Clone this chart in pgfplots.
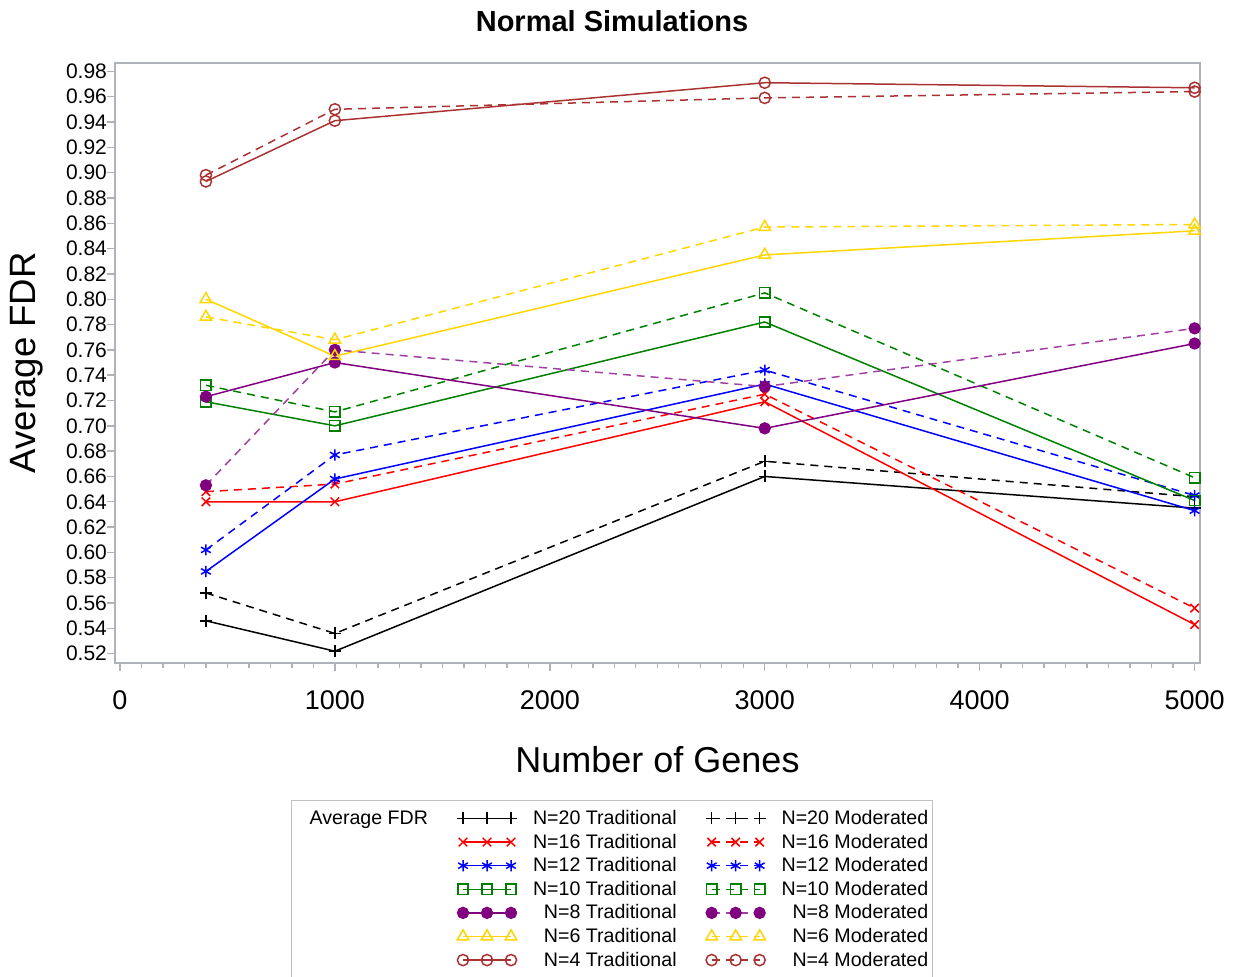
\documentclass[border=0pt]{standalone}
\usepackage{pgfplots}
\pgfplotsset{compat=1.18}
\usepackage{fontspec}
\setmainfont{Liberation Sans}
\definecolor{cGreen}{RGB}{0,128,0}
\definecolor{cPurple}{RGB}{128,0,128}
\definecolor{cGold}{RGB}{255,214,0}
\definecolor{cBrown}{RGB}{170,50,50}
\definecolor{cAxis}{RGB}{175,178,182}
\begin{document}
\begin{tikzpicture}
\useasboundingbox (-57.5pt,-157pt) rectangle (559pt,331.35pt);
\begin{axis}[
  scale only axis, width=542.5pt, height=300pt,
  xmin=-23, xmax=5025, ymin=0.5129, ymax=0.9868,
  xtick={0,1000,2000,3000,4000,5000}, minor x tick num=9,
  ytick={0.52,0.54,...,0.985},
  tick pos=left, tick align=outside,
  major tick length=4pt, minor tick length=2.5pt,
  axis line style={cAxis, line width=0.8pt},
  tick style={cAxis, line width=0.7pt},
  /pgf/number format/assume math mode=true,
  /pgf/number format/1000 sep={},
  yticklabel style={font=\fontsize{10.5}{12}\selectfont, xshift=3.5pt, /pgf/number format/.cd, fixed, fixed zerofill, precision=2},
  xticklabel style={font=\fontsize{13.5}{16}\selectfont, yshift=-6.5pt},
  title={Normal Simulations},
  title style={at={(axis description cs:0.5,1)}, anchor=center, yshift=15pt, xshift=-22.75pt, font=\bfseries\fontsize{14.5}{17}\selectfont},
  xlabel={Number of Genes},
  xlabel style={at={(axis description cs:0.5,-0.1617)}, anchor=center, font=\fontsize{18}{21}\selectfont},
  ylabel={Average FDR},
  ylabel style={at={(axis description cs:-0.081,0.5)}, anchor=center, font=\fontsize{18.3}{21}\selectfont},
  every axis plot/.append style={line width=0.75pt},
  legend image code/.code={\draw[#1] plot coordinates {(0pt,0pt) (12pt,0pt) (24pt,0pt)};},
  legend columns=3,
  legend cell align=right,
  legend style={at={(axis description cs:0.458,-0.2283)}, anchor=north,
    draw=cAxis!80, line width=0.6pt, inner xsep=1pt, inner ysep=3.5pt,
    font=\fontsize{9.8}{11}\selectfont,
    nodes={inner sep=1pt, text height=7.6pt, text depth=1.6pt},
    row sep=0.6pt,
    /tikz/every odd column/.append style={column sep=7pt},
    /tikz/every even column/.append style={column sep=13.5pt},
    /tikz/column 1/.append style={column sep=0pt},
    /tikz/column 2/.append style={column sep=15pt},
  },
  dsh/.style={dash pattern=on 4pt off 3pt},
]
% N=20
\addlegendimage{empty legend}\addlegendentry{Average FDR}
\addplot[black, mark=+, mark size=3pt, mark options={solid}] coordinates {(400,0.546)(1000,0.522)(3000,0.660)(5000,0.635)};
\addlegendentry{N=20 Traditional}
\addplot[black, dsh, mark=+, mark size=3pt, mark options={solid}] coordinates {(400,0.568)(1000,0.536)(3000,0.672)(5000,0.644)};
\addlegendentry{N=20 Moderated}
% N=16
\addlegendimage{empty legend}\addlegendentry{}
\addplot[red, mark=x, mark size=3pt, mark options={solid}] coordinates {(400,0.640)(1000,0.640)(3000,0.719)(5000,0.543)};
\addlegendentry{N=16 Traditional}
\addplot[red, dsh, mark=x, mark size=3pt, mark options={solid}] coordinates {(400,0.648)(1000,0.654)(3000,0.725)(5000,0.556)};
\addlegendentry{N=16 Moderated}
% N=12
\addlegendimage{empty legend}\addlegendentry{}
\addplot[blue, mark=asterisk, mark size=2.8pt, mark options={solid}] coordinates {(400,0.585)(1000,0.658)(3000,0.733)(5000,0.633)};
\addlegendentry{N=12 Traditional}
\addplot[blue, dsh, mark=asterisk, mark size=2.8pt, mark options={solid}] coordinates {(400,0.602)(1000,0.677)(3000,0.744)(5000,0.645)};
\addlegendentry{N=12 Moderated}
% N=10
\addlegendimage{empty legend}\addlegendentry{}
\addplot[cGreen, mark=square, mark size=2.6pt, mark options={solid}] coordinates {(400,0.719)(1000,0.700)(3000,0.782)(5000,0.641)};
\addlegendentry{N=10 Traditional}
\addplot[cGreen, dsh, mark=square, mark size=2.6pt, mark options={solid}] coordinates {(400,0.732)(1000,0.711)(3000,0.805)(5000,0.659)};
\addlegendentry{N=10 Moderated}
% N=8
\addlegendimage{empty legend}\addlegendentry{}
\addplot[cPurple, mark=*, mark size=2.7pt, mark options={solid}] coordinates {(400,0.723)(1000,0.750)(3000,0.698)(5000,0.765)};
\addlegendentry{N=8 Traditional}
\addplot[cPurple!75, dsh, mark=*, mark size=2.7pt, mark options={solid, fill=cPurple, draw=cPurple}] coordinates {(400,0.653)(1000,0.760)(3000,0.731)(5000,0.777)};
\addlegendentry{N=8 Moderated}
% N=6
\addlegendimage{empty legend}\addlegendentry{}
\addplot[cGold, mark=triangle, mark size=3.3pt, mark options={solid}] coordinates {(400,0.800)(1000,0.755)(3000,0.835)(5000,0.854)};
\addlegendentry{N=6 Traditional}
\addplot[cGold, dsh, mark=triangle, mark size=3.3pt, mark options={solid}] coordinates {(400,0.786)(1000,0.768)(3000,0.857)(5000,0.859)};
\addlegendentry{N=6 Moderated}
% N=4
\addlegendimage{empty legend}\addlegendentry{}
\addplot[cBrown, mark=o, mark size=2.8pt, mark options={solid}] coordinates {(400,0.893)(1000,0.941)(3000,0.971)(5000,0.967)};
\addlegendentry{N=4 Traditional}
\addplot[cBrown, dsh, mark=o, mark size=2.8pt, mark options={solid}] coordinates {(400,0.898)(1000,0.950)(3000,0.959)(5000,0.964)};
\addlegendentry{N=4 Moderated}
\end{axis}
\end{tikzpicture}
\end{document}
